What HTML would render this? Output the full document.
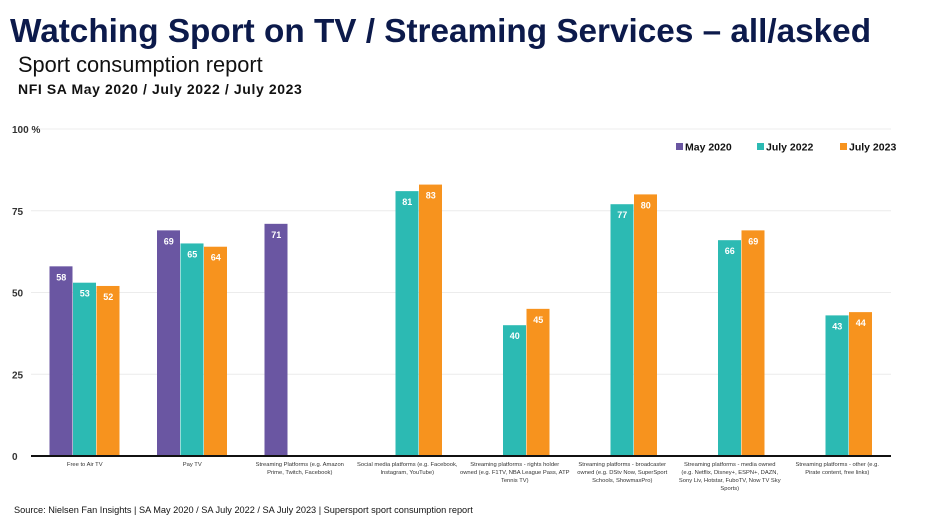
<!DOCTYPE html>
<html><head><meta charset="utf-8"><style>
body{margin:0;width:929px;height:523px;background:#fff;font-family:"Liberation Sans",sans-serif;overflow:hidden;position:relative}
.t{position:absolute;white-space:nowrap}
</style></head><body>
<div class="t" style="left:10px;top:13px;font-size:33.3px;font-weight:bold;color:#0c1a4b">Watching Sport on TV / Streaming Services – all/asked</div>
<div class="t" style="left:18px;top:52px;font-size:21.8px;color:#111">Sport consumption report</div>
<div class="t" style="left:18px;top:81px;font-size:14px;font-weight:bold;color:#111;letter-spacing:0.6px">NFI SA May 2020 / July 2022 / July 2023</div>
<div class="t" style="left:14px;top:505px;font-size:9.2px;color:#111">Source: Nielsen Fan Insights | SA May 2020 / SA July 2022 / SA July 2023 | Supersport sport consumption report</div>
<svg id="c" width="929" height="523" style="position:absolute;left:0;top:0"></svg>
<script>
const categories=["Free to Air TV","Pay TV","Streaming Platforms (e.g. Amazon Prime, Twitch, Facebook)","Social media platforms (e.g. Facebook, Instagram, YouTube)","Streaming platforms - rights holder owned (e.g. F1TV, NBA League Pass, ATP Tennis TV)","Streaming platforms - broadcaster owned (e.g. DStv Now, SuperSport Schools, ShowmaxPro)","Streaming platforms - media owned (e.g. Netflix, Disney+, ESPN+, DAZN, Sony Liv, Hotstar, FuboTV, Now TV Sky Sports)","Streaming platforms - other (e.g. Pirate content, free links)"];
const seriesNames=["May 2020","July 2022","July 2023"];
const may2020=[58,69,71,null,null,null,null,null];
const jul2022=[53,65,null,81,40,77,66,43];
const jul2023=[52,64,null,83,45,80,69,44];
const yTicks=[0,25,50,75,100];
const colors=["#6a56a2","#2cbab3","#f7931e"];
const svg=document.getElementById('c');const NS="http://www.w3.org/2000/svg";
const X0=31,X1=891,Y0=456,Y100=129;
const y=v=>Y0-(Y0-Y100)*v/100;
const step=(X1-X0)/categories.length;
const bw=23.5;
function mk(t,a){const e=document.createElementNS(NS,t);for(const k in a)e.setAttribute(k,a[k]);svg.appendChild(e);return e;}
yTicks.forEach(v=>{
 if(v>0){const g=mk('line',{x1:X0,x2:X1,y1:y(v),y2:y(v),stroke:'#ececec','stroke-width':1});
 
 }
 const t=mk('text',{x:12,y:y(v)+4,'font-size':10,'font-weight':'bold',fill:'#333'});t.textContent=v===100?'100 %':v;
 
 
});
const series=[may2020,jul2022,jul2023];
categories.forEach((c,i)=>{
 const cx=X0+step*(i+0.5);
 series.forEach((s,j)=>{
  const v=s[i];if(v==null)return;
  const x=cx-bw*1.5+j*bw;
  const r=mk('rect',{x:x,y:y(v),width:bw-0.5,height:Y0-y(v),fill:colors[j]});
  
  
  const t=mk('text',{x:x+bw/2,y:y(v)+14,'font-size':9,'font-weight':'bold',fill:'#fff','text-anchor':'middle'});t.textContent=v;
  
  
 });
 const words=c.split(' ');let lines=[''];
 words.forEach(w=>{const cur=lines[lines.length-1];if((cur+' '+w).length>38&&cur){lines.push(w);}else lines[lines.length-1]=cur?cur+' '+w:w;});
 lines.forEach((l,k)=>{const t=mk('text',{x:cx,y:466+k*8,'font-size':5.8,fill:'#333','text-anchor':'middle'});t.textContent=l;
  
  });
});
const ax=mk('line',{x1:X0,x2:X1,y1:Y0,y2:Y0,stroke:'#111','stroke-width':2});


const lx=[676,757,840];
seriesNames.forEach((n,j)=>{
 const r=mk('rect',{x:lx[j],y:143,width:7,height:7,fill:colors[j]});
 
 
 const t=mk('text',{x:lx[j]+9,y:150.5,'font-size':10.5,'font-weight':'bold',fill:'#111'});t.textContent=n;
 
 
});
</script>
</body></html>
